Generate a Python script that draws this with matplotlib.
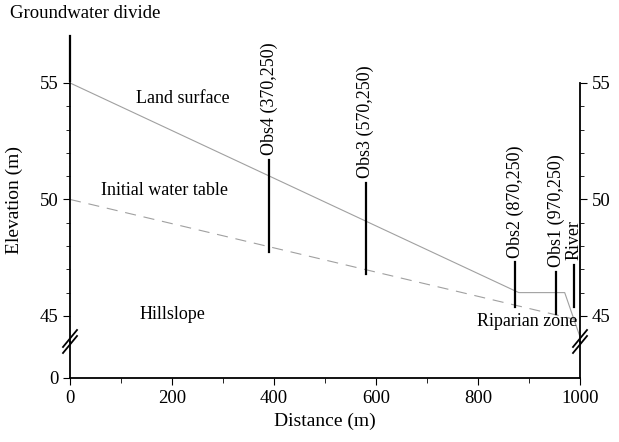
import numpy as np
import matplotlib.pyplot as plt

plt.rcParams['font.family'] = ['Liberation Serif', 'DejaVu Serif']

# land surface and initial water table (distance in m, elevation in m)
land_x = [0, 880, 970, 1000]
land_y = [55, 46, 46, 44.1]
wt_x = [0, 1000]
wt_y = [50, 44.8]

# observation wells / markers: x, top, bottom, label
obs_names = ['Obs4 (370,250)', 'Obs3 (570,250)', 'Obs2 (870,250)', 'Obs1 (970,250)', 'River']
obs_x = [390, 580, 873, 953, 988]
obs_top = [51.7, 50.7, 47.3, 46.9, 47.2]
obs_bot = [47.75, 46.8, 45.4, 45.1, 45.4]

divide_x = 0
divide_top, divide_bot = 57.0, 55.1

areas = ['Land surface', 'Initial water table', 'Hillslope', 'Riparian zone']
area_x = [222, 186, 200, 896]
area_y = [54.35, 50.4, 45.05, 44.75]

fig = plt.figure(figsize=(6.19, 4.42), dpi=100)
L, R = 70 / 619, 580 / 619
ax = fig.add_axes([L, 1 - 342 / 442, R - L, 342 / 442])
axb = fig.add_axes([L, 1 - 378 / 442, R - L, 36 / 442], sharex=ax)

ax.plot(land_x, land_y, color='#a0a0a0', lw=0.8)
ax.plot(wt_x, wt_y, color='#a0a0a0', lw=0.8, dashes=(10, 7))
for name, x, t, b in zip(obs_names, obs_x, obs_top, obs_bot):
    ax.plot([x, x], [b, t], color='black', lw=1.6)
    ax.text(x, t + 0.2, name, rotation=90, ha='center', va='bottom', fontsize=13)
ax.plot([divide_x, divide_x], [divide_bot, divide_top], color='black', lw=1.6, clip_on=False)
ax.text(-118, 58.0, 'Groundwater divide', ha='left', va='center', fontsize=13.5)
for name, x, y in zip(areas, area_x, area_y):
    ax.text(x, y, name, ha='center', va='center', fontsize=13)

ax.set_xlim(0, 1000)
ax.set_ylim(43.88, 58.56)
ax.spines['top'].set_visible(False)
ax.spines['bottom'].set_visible(False)
ax.spines['left'].set_bounds(43.88, 55)
ax.spines['right'].set_bounds(43.88, 55)
ax.set_yticks([45, 50, 55])
ax.set_yticks(np.arange(45, 56, 1), minor=True)
ax.tick_params(axis='y', which='both', left=True, right=True, labelleft=True,
               labelright=True, direction='out', labelsize=13.5)
ax.tick_params(axis='y', which='major', length=5)
ax.tick_params(axis='y', which='minor', length=3)
ax.tick_params(axis='x', which='both', bottom=False, labelbottom=False)
ax.patch.set_visible(False)

axb.set_ylim(0, 1)
axb.spines['top'].set_visible(False)
axb.set_yticks([0])
axb.set_xticks(np.arange(0, 1001, 200))
axb.set_xticks(np.arange(0, 1001, 100), minor=True)
axb.tick_params(axis='both', which='major', length=5, direction='out', labelsize=13.5)
axb.tick_params(axis='x', which='minor', length=3.5, direction='out')
axb.tick_params(axis='y', right=False)
axb.patch.set_visible(False)
for a in (ax, axb):
    for s in a.spines.values():
        s.set_linewidth(1.3)

# break marks
for xf in (0, 1):
    for dy in (0, 6):
        y0 = 353 - dy
        fig.add_artist(plt.Line2D([(70 + xf * 510 - 7) / 619, (70 + xf * 510 + 7) / 619],
                                  [1 - y0 / 442, 1 - (y0 - 17) / 442],
                                  color='black', lw=1.3))

axb.set_xlabel('Distance (m)', fontsize=14)
fig.text(14 / 619, 1 - 200 / 442, 'Elevation (m)', rotation=90, ha='center', va='center', fontsize=14)

fig.savefig('out.png', dpi=100)
